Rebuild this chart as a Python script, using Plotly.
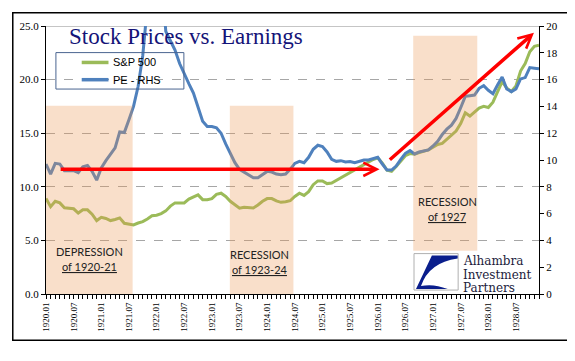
import plotly.graph_objects as go

# ---------------- data ----------------
months = [f"{y}.{m:02d}" for y in range(1920, 1929) for m in range(1, 13)]
tick_labels = ["1920.01", "1920.07", "1921.01", "1921.07", "1922.01", "1922.07",
               "1923.01", "1923.07", "1924.01", "1924.07", "1925.01", "1925.07",
               "1926.01", "1926.07", "1927.01", "1927.07", "1928.01", "1928.07"]

sp500 = [
    8.90, 8.15, 8.65, 8.50, 8.05, 7.97, 7.95, 7.55, 7.85, 7.85, 7.45, 6.85,
    7.15, 7.05, 6.85, 6.95, 7.10, 6.60, 6.55, 6.45, 6.62, 6.75, 7.00, 7.30,
    7.35, 7.50, 7.75, 8.20, 8.50, 8.50, 8.50, 8.85, 9.05, 9.25, 8.80, 8.80,
    8.90, 9.30, 9.40, 9.10, 8.65, 8.30, 8.00, 8.10, 8.10, 8.03, 8.30, 8.65,
    8.90, 8.90, 8.68, 8.55, 8.60, 8.70, 9.10, 9.40, 9.20, 9.55, 10.20, 10.55,
    10.55, 10.30, 10.35, 10.60, 10.85, 11.10, 11.30, 11.55, 11.85, 12.10, 12.35, 12.55,
    12.70, 12.20, 11.55, 11.45, 11.90, 12.40, 12.90, 13.10, 13.05, 13.20, 13.30, 13.45,
    13.70, 13.95, 14.05, 14.45, 14.85, 15.20, 15.90, 16.90, 16.60, 17.00, 17.35, 17.50,
    17.40, 17.90, 18.80, 19.80, 19.20, 18.90, 19.40, 20.80, 21.50, 22.60, 23.10, 23.20,
]

pe_ratio = [
    9.70, 8.95, 9.75, 9.70, 9.20, 9.20, 9.20, 9.05, 9.50, 9.60, 9.15, 8.50,
    9.40, 9.95, 10.40, 10.90, 12.10, 12.05, 13.00, 14.00, 15.50, 17.80, 21.50, 25.00,
    27.00, 24.00, 19.60, 18.90, 18.20, 17.20, 16.40, 15.70, 15.00, 13.90, 12.90, 12.50,
    12.50, 12.40, 12.00, 11.20, 10.50, 9.80, 9.30, 9.10, 8.90, 8.68, 8.68, 8.95,
    9.15, 9.10, 8.95, 8.90, 8.95, 9.30, 9.75, 9.90, 9.80, 10.20, 10.80, 11.10,
    11.00, 10.60, 10.05, 9.90, 9.95, 9.85, 9.88, 9.80, 9.90, 10.00, 10.00, 10.10,
    10.20, 9.70, 9.25, 9.25, 9.55, 10.05, 10.50, 10.70, 10.45, 10.60, 10.70, 10.75,
    11.05, 11.40, 11.90, 12.30, 12.60, 13.10, 13.90, 14.75, 14.80, 14.85, 15.35, 15.55,
    15.20, 14.95, 15.60, 16.20, 15.30, 15.10, 15.30, 16.05, 16.15, 16.90, 16.85, 16.80,
]

series_names = ["S&P 500", "PE - RHS"]
series_colors = ["#9bbb59", "#4f81bd"]

# recession periods: (label line 1, label line 2, start idx, end idx, bottom, top)
recessions = [
    ("DEPRESSION", "of 1920-21", 0.0, 18.8, 0.0, 17.55),
    ("RECESSION", "of 1923-24", 39.9, 53.7, 0.0, 17.55),
    ("RECESSION", "of 1927", 79.7, 93.6, 4.04, 24.1),
]
# trend arrows: (start idx, start value, end idx, end value) on left axis
arrows = [(2.85, 11.63, 72.4, 11.63), (74.3, 12.4, 105.9, 24.36)]

# ---------------- layout geometry (reference-window pixels) ----------------
W, H = 575, 361
OFF = 8                      # default page body margin of the html page
L, R, T, B = 42, 539, 22, 294


def px(x):
    return (x - L) / (R - L)


def py(y):
    return (B - y) / (B - T)


SERIF = "Liberation Serif, Times New Roman, serif"
SANS = "Liberation Sans, Arial, sans-serif"
CAL = "Lato, Carlito, Calibri, sans-serif"

fig = go.Figure()
fig.add_trace(go.Scatter(x=months, y=sp500, name=series_names[0], mode="lines",
                         line=dict(color=series_colors[0], width=3), yaxis="y",
                         showlegend=False))
fig.add_trace(go.Scatter(x=months, y=pe_ratio, name=series_names[1], mode="lines",
                         line=dict(color=series_colors[1], width=3), yaxis="y2",
                         showlegend=False))

shapes = []
annotations = []

# recession shading (drawn over lines, translucent)
for l1, l2, x0, x1, y0, y1 in recessions:
    shapes.append(dict(type="rect", xref="x", yref="y", x0=x0, x1=x1, y0=y0, y1=y1,
                       fillcolor="rgba(234,150,80,0.30)", line=dict(width=0),
                       layer="above"))

# recession labels
label_pos = [(9.4, 3.95, 2.57), (46.4, 3.68, 2.30), (87.1, 8.64, 7.26)]
for (l1, l2, *_), (lx, ly1, ly2) in zip(recessions, label_pos):
    annotations.append(dict(x=lx, y=ly1, xref="x", yref="y", text=l1, showarrow=False,
                            font=dict(family=CAL, size=11, color="#222")))
    annotations.append(dict(x=lx, y=ly2, xref="x", yref="y", text=f"<u>{l2}</u>",
                            showarrow=False, font=dict(family=CAL, size=11, color="#222")))

# red trend arrows
for x0, y0, x1, y1 in arrows:
    annotations.append(dict(x=x1, y=y1, ax=x0, ay=y0, xref="x", yref="y", axref="x",
                            ayref="y", text="", showarrow=True, arrowhead=5,
                            arrowsize=0.75, arrowwidth=3.5, arrowcolor="#ff0000"))

# title
annotations.append(dict(x=px(63), y=py(33), xref="paper", yref="paper", xanchor="left",
                        yanchor="middle", text="Stock Prices vs. Earnings", showarrow=False,
                        font=dict(family=SERIF, size=23, color="#141478")))

# legend (box, samples, labels)
shapes.append(dict(type="rect", xref="paper", yref="paper", x0=px(52), x1=px(181),
                   y0=py(86), y1=py(49), line=dict(color="#4a6590", width=1),
                   fillcolor="rgba(0,0,0,0)", layer="above"))
for name, color, yy in zip(series_names, series_colors, [59, 76.5]):
    shapes.append(dict(type="line", xref="paper", yref="paper", x0=px(78), x1=px(105),
                       y0=py(yy), y1=py(yy), line=dict(color=color, width=3.5),
                       layer="above"))
    annotations.append(dict(x=px(108), y=py(yy), xref="paper", yref="paper",
                            xanchor="left", yanchor="middle", text=name, showarrow=False,
                            font=dict(family=SANS, size=11, color="black")))

# top solid line at 25
shapes.append(dict(type="line", xref="paper", yref="y", x0=0, x1=1, y0=25, y1=25,
                   line=dict(color="#8c8c8c", width=1), layer="below"))

# outer border
shapes.append(dict(type="rect", xref="paper", yref="paper", x0=px(OFF + 0.5), x1=px(568),
                   y0=py(341), y1=py(OFF + 0.5), line=dict(color="black", width=1.5),
                   fillcolor="rgba(0,0,0,0)", layer="above"))

# logo box + mark
shapes.append(dict(type="rect", xref="paper", yref="paper", x0=px(413), x1=px(457.5),
                   y0=py(290), y1=py(253), line=dict(color="#b0b0b0", width=1),
                   fillcolor="white", layer="above"))
path = "M{:.4f},{:.4f} L{:.4f},{:.4f} L{:.4f},{:.4f} Q{:.4f},{:.4f} {:.4f},{:.4f} Q{:.4f},{:.4f} {:.4f},{:.4f} L{:.4f},{:.4f} Z".format(
    px(431), py(255), px(457), py(255), px(457), py(258),
    px(428), py(262), px(420), py(286),
    px(432), py(283), px(447), py(289),
    px(415), py(289))
shapes.append(dict(type="path", xref="paper", yref="paper", path=path,
                   fillcolor="#0a1e8c", line=dict(width=0), layer="above"))
for txt, yy in [("Alhambra", 261), ("Investment", 274.5), ("Partners", 288)]:
    annotations.append(dict(x=px(460), y=py(yy), xref="paper", yref="paper",
                            xanchor="left", yanchor="middle", text=txt, showarrow=False,
                            font=dict(family="DejaVu Serif, serif", size=12,
                                      color="#1c1c3c")))

ticktext = [m if m in tick_labels else "" for m in months]

fig.update_layout(
    width=W, height=H,
    margin=dict(l=L - OFF, r=W - (R - OFF), t=T - OFF, b=H - (B - OFF), pad=0),
    paper_bgcolor="white", plot_bgcolor="white",
    showlegend=False,
    xaxis=dict(type="category", range=[0, len(months) - 1], tickmode="array",
               tickvals=months, ticktext=ticktext, tickangle=-90, ticks="outside",
               ticklen=4, tickwidth=1, tickcolor="black", showline=True,
               linecolor="black", linewidth=1, showgrid=False, zeroline=False,
               tickfont=dict(family=SERIF, size=9, color="black")),
    yaxis=dict(range=[0, 25], dtick=5, tickformat=".1f", ticks="outside", ticklen=4,
               tickcolor="black", showline=True, linecolor="black", linewidth=1,
               showgrid=True, gridcolor="#a6a6a6", griddash="dash", gridwidth=1,
               zeroline=False, tickfont=dict(family=SERIF, size=11, color="black")),
    yaxis2=dict(range=[0, 20], dtick=2, overlaying="y", side="right", ticks="outside",
                ticklen=4, tickcolor="black", showline=True, linecolor="black",
                linewidth=1, showgrid=False, zeroline=False,
                tickfont=dict(family=SERIF, size=11, color="black")),
    shapes=shapes,
    annotations=annotations,
)

fig.write_html("out.html")
